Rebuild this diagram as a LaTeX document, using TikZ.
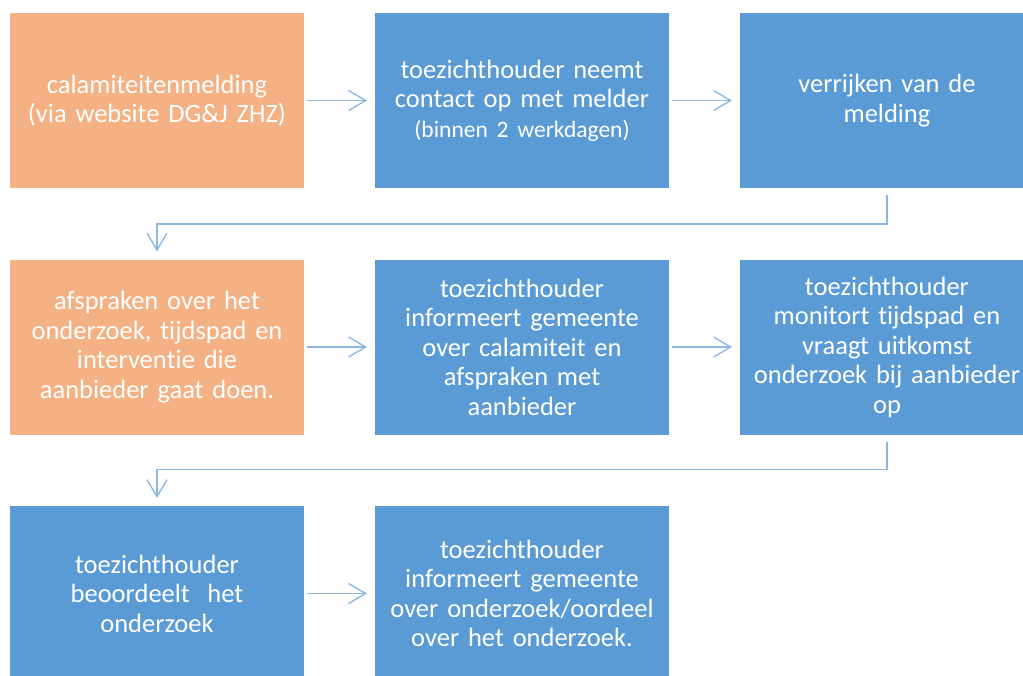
\documentclass[tikz,border=0pt]{standalone}
\usepackage{fontspec}
\setmainfont{Carlito}[WordSpace=0.75,Ligatures=NoCommon]
\usetikzlibrary{matrix,positioning,arrows.meta}
\definecolor{myorange}{RGB}{244,177,131}
\definecolor{myblue}{RGB}{91,155,213}
\definecolor{myarrow}{RGB}{140,184,227}

\begin{document}
\begin{tikzpicture}[x=1pt,y=1pt,
  amat/.style={matrix of nodes,inner sep=0pt,outer sep=0pt,
  row sep=71.5pt,column sep=71pt,
  nodes={rectangle,anchor=center,minimum width=294pt,minimum height=175pt,text width=286pt,
    align=center,text=white,inner sep=0pt,outer sep=0pt,
    font=\fontsize{26.5}{29.5}\selectfont}},
  onode/.style={fill=myorange},
  bnode/.style={fill=myblue},
  flowarrow/.style={draw=myarrow,line width=1.4pt,-{Straight Barb[length=17pt,width=20pt,line width=1.4pt]}}]

  \useasboundingbox (0,0) rectangle (1023,-675);
  \clip (0,0) rectangle (1023,-675);

  \matrix[amat,anchor=north west] (flow) at (10,-13) {
    |[onode]| {calamiteitenmelding\\(via website DG\&J ZHZ)} &
    |[bnode]| {toezichthouder neemt\\contact op met melder\\{\fontsize{23.5}{28.5}\selectfont(binnen 2 werkdagen)}} &
    |[bnode]| {verrijken van de\\melding} \\
    |[onode]| {afspraken over het\\onderzoek, tijdspad en\\interven\kern0pt tie die\\aanbieder gaat doen.} &
    |[bnode]| {toezichthouder\\informeert gemeente\\over calamiteit en\\afspraken met\\aanbieder} &
    |[bnode]| {toezichthouder\\monitort tijdspad en\\vraagt uitkomst\\onderzoek bij aanbieder\\op} \\
    |[bnode]| {toezichthouder\\beoordeelt\ \ het\\onderzoek} &
    |[bnode]| {toezichthouder\\informeert gemeente\\over onderzoek/oordeel\\over het onderzoek.} & \\
  };

  % arrows within a row
  \draw[flowarrow,shorten <=3pt,shorten >=8pt] (flow-1-1) -- (flow-1-2);
  \draw[flowarrow,shorten <=3pt,shorten >=8pt] (flow-1-2) -- (flow-1-3);
  \draw[flowarrow,shorten <=3pt,shorten >=8pt] (flow-2-1) -- (flow-2-2);
  \draw[flowarrow,shorten <=3pt,shorten >=8pt] (flow-2-2) -- (flow-2-3);
  \draw[flowarrow,shorten <=3pt,shorten >=8pt] (flow-3-1) -- (flow-3-2);

  % elbow arrows to next row
  \draw[flowarrow,shorten <=7pt,shorten >=8pt] (flow-1-3.south) -- ++(0,-36) -| (flow-2-1.north);
  \draw[flowarrow,shorten <=7pt,shorten >=8pt] (flow-2-3.south) -- ++(0,-35) -| (flow-3-1.north);

\end{tikzpicture}
\end{document}
